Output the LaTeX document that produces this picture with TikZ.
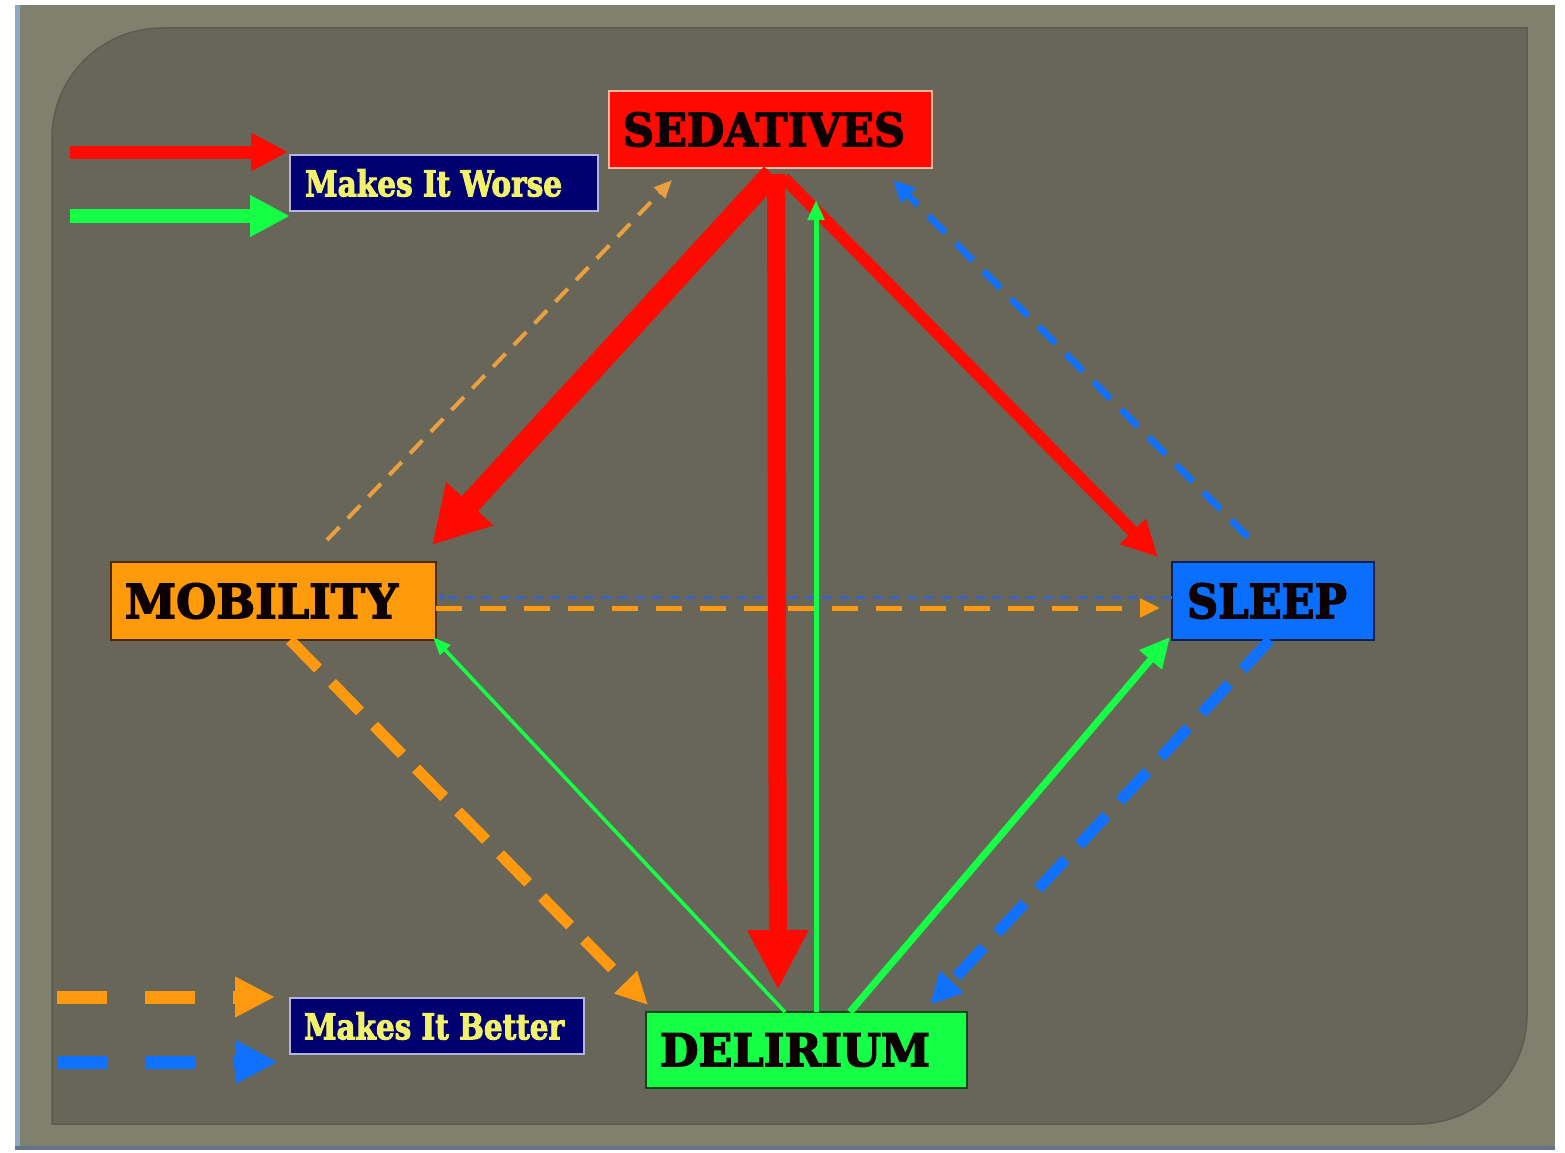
\documentclass[tikz,border=0pt]{standalone}
\usepackage{fontspec}
\setmainfont{DejaVu Serif}
\newfontfamily\heavyfont{DejaVu Serif}[BoldFeatures={FakeBold=3}]
\usetikzlibrary{arrows.meta,calc}

% colours
\definecolor{framecol}{HTML}{80806E}
\definecolor{panelcol}{HTML}{676658}
\definecolor{paneledge}{HTML}{5C5C4F}
\definecolor{edgeblue}{HTML}{8EA6C6}
\definecolor{sedred}{HTML}{FF0A00}
\definecolor{sedrim}{HTML}{FFB4A0}
\definecolor{mobora}{HTML}{FF9A0A}
\definecolor{mobrim}{HTML}{4A2A08}
\definecolor{slpblue}{HTML}{0A6EFF}
\definecolor{slprim}{HTML}{102050}
\definecolor{delgreen}{HTML}{14FF46}
\definecolor{delrim}{HTML}{0A4A18}
\definecolor{legnavy}{HTML}{000070}
\definecolor{legrim}{HTML}{B4B4E0}
\definecolor{legtext}{HTML}{F2F26A}
\definecolor{arrred}{HTML}{FF0A00}
\definecolor{arrgreen}{HTML}{14FF46}
\definecolor{arrora}{HTML}{FF9A10}
\definecolor{arrorapale}{HTML}{EAA040}
\definecolor{arrblue}{HTML}{1070FF}
\definecolor{arrbluedim}{HTML}{3A64C0}

% fixed-size label, left-padded inside a box of given width
\newcommand\fitlabel[5]{\makebox[#1][l]{\hspace*{#2}\resizebox{#3}{#4}{\heavyfont\bfseries #5}}}

\begin{document}
\begin{tikzpicture}[x=1pt,y=-1pt,
  nodebox/.style={draw, line width=1.6pt, inner sep=0pt, outer sep=0pt, text=black!95!red},
  legbox/.style={draw=legrim, fill=legnavy, line width=1.6pt, inner sep=0pt, outer sep=0pt, text=legtext}]

\useasboundingbox (0,0) rectangle (1565,1153);

% page background, frame and panel
\fill[white] (0,0) rectangle (1565,1153);
\fill[framecol] (15,5) rectangle (1555,1150);
\fill[edgeblue] (15,5) rectangle (20,1150);
\fill[edgeblue!70!black] (15,1146) rectangle (1555,1150);
\fill[panelcol, draw=paneledge, line width=1.5pt]
  (52,1124) -- (52,138) arc[start angle=180, end angle=90, radius=110pt]
  -- (1527,28) -- (1527,1014) arc[start angle=0, end angle=-90, radius=110pt]
  -- cycle;

% main boxes
\node[nodebox, fill=sedred, draw=sedrim, minimum width=323pt, minimum height=77pt]
  (sed) at (770.5,129.5) {\fitlabel{323pt}{14pt}{282pt}{34pt}{SEDATIVES}};
\node[nodebox, fill=mobora, draw=mobrim, minimum width=325pt, minimum height=78pt]
  (mob) at (273.5,601) {\fitlabel{325pt}{14pt}{273pt}{35pt}{MOBILITY}};
\node[nodebox, fill=slpblue, draw=slprim, minimum width=202pt, minimum height=78pt]
  (slp) at (1273,601) {\fitlabel{202pt}{15pt}{160pt}{35pt}{SLEEP}};
\node[nodebox, fill=delgreen, draw=delrim, minimum width=321pt, minimum height=76pt]
  (del) at (806.5,1050) {\fitlabel{321pt}{14pt}{270pt}{33pt}{DELIRIUM}};

% legend boxes
\node[legbox, minimum width=308pt, minimum height=56pt]
  (worsebox) at (444,183) {\fitlabel{308pt}{15pt}{257pt}{27pt}{Makes It Worse}};
\node[legbox, minimum width=294pt, minimum height=56pt]
  (betterbox) at (437,1026) {\fitlabel{294pt}{14pt}{260pt}{27pt}{Makes It Better}};

% legend arrows
\coordinate (lr1) at (70,152);   \coordinate (lr2) at (288,152);
\coordinate (lg1) at (70,216);   \coordinate (lg2) at (290,216);
\coordinate (lo1) at (57,997);   \coordinate (lo2) at (275,997);
\coordinate (lb1) at (57,1062);  \coordinate (lb2) at (278,1062);
\draw[arrred, line width=13pt, -{Triangle[length=37pt,width=36pt]}] (lr1) -- (lr2);
\draw[arrgreen, line width=14pt, -{Triangle[length=40pt,width=39pt]}] (lg1) -- (lg2);
\draw[arrora, line width=13pt, dash pattern=on 50pt off 38pt,
  -{Triangle[length=40pt,width=38pt]}] (lo1) -- (lo2);
\draw[arrblue, line width=13pt, dash pattern=on 50pt off 38pt,
  -{Triangle[length=42pt,width=40pt]}] (lb1) -- (lb2);

% makes it better (dashed)
\draw[arrorapale, line width=4pt, dash pattern=on 18pt off 12pt,
  -{Triangle[length=18pt,width=15pt]}]
  ($(mob.north)+(53.5,-22)$) -- ($(sed.south west)+(63,12)$);
\draw[arrblue, line width=6.5pt, dash pattern=on 24pt off 15pt,
  -{Triangle[length=22pt,width=20pt]}]
  ($(slp.north)+(-25,-25)$) -- ($(sed.south east)+(-39,12)$);
\draw[arrbluedim, line width=3pt, dash pattern=on 10pt off 7pt,
  -{Triangle[length=6pt,width=8pt]}]
  ($(slp.west)+(0,-4)$) -- ($(mob.east)+(2,-4)$);
\draw[arrora, line width=5pt, dash pattern=on 26pt off 18pt,
  -{Triangle[length=20pt,width=18pt]}]
  ($(mob.east)+(0,7)$) -- ($(slp.west)+(-12,7)$);
\draw[arrora, line width=11pt, dash pattern=on 40pt off 20pt,
  -{Triangle[length=32pt,width=30pt]}]
  ($(mob.south)+(16.5,0)$) -- ($(del.north west)+(2,-7)$);
\draw[arrblue, line width=11pt, dash pattern=on 40pt off 20pt,
  -{Triangle[length=32pt,width=30pt]}]
  ($(slp.south)+(-3,0)$) -- ($(del.north east)+(-37,-7)$);

% makes it worse (solid)
\draw[arrgreen, line width=3.5pt, -{Triangle[length=18pt,width=14pt]}]
  ($(del.north)+(-21.5,0)$) -- ($(mob.south east)+(-3,-3)$);
\draw[arrgreen, line width=7pt, -{Triangle[length=30pt,width=28pt]}]
  ($(del.north)+(43.5,0)$) -- ($(slp.south west)+(-2,-3)$);
\draw[arrred, line width=22pt, -{Triangle[length=56pt,width=60pt]}]
  ($(sed.south)+(1.5,6)$) -- ($(mob.north east)+(-4,-17)$);
\draw[arrred, line width=12pt, -{Triangle[length=36pt,width=34pt]}]
  ($(sed.south)+(13.5,10)$) -- ($(slp.north west)+(-14,-5)$);
\draw[arrred, line width=18pt, -{Triangle[length=60pt,width=57pt]}]
  ($(sed.south)+(5.5,6)$) -- ($(del.north)+(-28.5,-22)$);
\draw[arrgreen, line width=5pt, -{Triangle[length=20pt,width=16pt]}]
  ($(del.north)+(9.5,0)$) -- ($(sed.south)+(45.5,32)$);

\end{tikzpicture}
\end{document}
